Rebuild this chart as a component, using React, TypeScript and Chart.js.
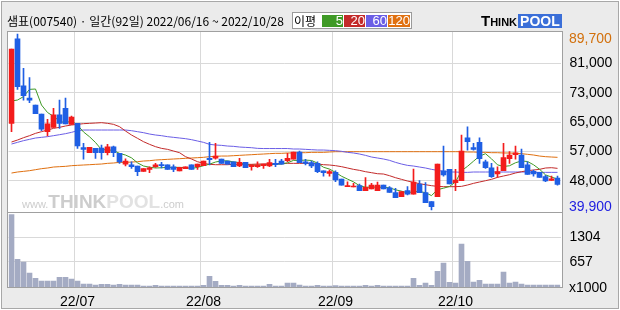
import React, { useEffect, useRef } from 'react';
import { Chart, registerables } from 'chart.js';

Chart.register(...registerables);

// ---- data ----
const dates = [
  '22/06/16', '22/06/17', '22/06/20', '22/06/21', '22/06/22', '22/06/23', '22/06/24', '22/06/27', '22/06/28', '22/06/29', '22/06/30',
  '22/07/01', '22/07/04', '22/07/05', '22/07/06', '22/07/07', '22/07/08', '22/07/11', '22/07/12', '22/07/13', '22/07/14', '22/07/15',
  '22/07/18', '22/07/19', '22/07/20', '22/07/21', '22/07/22', '22/07/25', '22/07/26', '22/07/27', '22/07/28', '22/07/29',
  '22/08/01', '22/08/02', '22/08/03', '22/08/04', '22/08/05', '22/08/08', '22/08/09', '22/08/10', '22/08/11', '22/08/12',
  '22/08/16', '22/08/17', '22/08/18', '22/08/19', '22/08/22', '22/08/23', '22/08/24', '22/08/25', '22/08/26', '22/08/29',
  '22/08/30', '22/08/31',
  '22/09/01', '22/09/02', '22/09/05', '22/09/06', '22/09/07', '22/09/08', '22/09/13', '22/09/14', '22/09/15', '22/09/16',
  '22/09/19', '22/09/20', '22/09/21', '22/09/22', '22/09/23', '22/09/26', '22/09/27', '22/09/28', '22/09/29', '22/09/30',
  '22/10/04', '22/10/05', '22/10/06', '22/10/07', '22/10/11', '22/10/12', '22/10/13', '22/10/14', '22/10/17', '22/10/18',
  '22/10/19', '22/10/20', '22/10/21', '22/10/24', '22/10/25', '22/10/26', '22/10/27', '22/10/28',
];

const opens = [
  64400, 88300, 75000, 71600, 69600, 67050, 62050, 63300, 66800, 68650,
  64150, 64400, 57550, 56100, 57350, 57450, 56100, 57800, 55950, 52900,
  52650, 52350, 50850, 51400, 52150, 52700, 52650, 52150, 50950, 51600,
  52650, 52150, 52450, 54500, 54600, 54300, 53750, 53550, 52350, 53400,
  52150, 52150, 52450, 52350, 53100, 53750, 53850, 54250, 56300, 53550,
  53300, 53100, 51000, 50270, 50550, 48670, 46500, 46400, 46780, 45370,
  45850, 45370, 46970, 46200, 44800, 43650, 45370, 44400, 47250, 44800,
  42250, 43650, 51000, 51400, 47650, 48200, 60350, 57550, 59050, 53500,
  51850, 50100, 51050, 54400, 55550, 55450, 52650, 50850, 50550, 49350,
  48300, 48950,
];
const highs = [
  85450, 89700, 80000, 77350, 69600, 67050, 65550, 68650, 71000, 71600,
  66500, 64400, 58750, 57650, 57350, 58300, 58500, 58000, 55950, 54400,
  53500, 52350, 51600, 52150, 53100, 53400, 52650, 52650, 51950, 52150,
  52650, 52900, 53750, 59050, 58750, 54300, 53750, 53550, 54500, 53400,
  52650, 53550, 52900, 54250, 54250, 54250, 55900, 56300, 56600, 54250,
  53750, 53550, 51000, 51200, 51000, 48670, 47900, 47450, 47250, 49050,
  47450, 47800, 46970, 46500, 46050, 45100, 46500, 51500, 48200, 47650,
  42250, 52900, 58000, 51400, 51400, 61100, 63400, 58750, 60350, 54050,
  53100, 52150, 58750, 56400, 58000, 57150, 53550, 51200, 50550, 49700,
  49500, 49500,
];
const lows = [
  62050, 74050, 71000, 70250, 67150, 62350, 60850, 63300, 63000, 64250,
  64150, 57350, 54250, 56100, 54500, 54250, 55450, 55000, 53100, 52350,
  51700, 49600, 50850, 50450, 51950, 51800, 51400, 50750, 50950, 51600,
  51400, 51400, 52450, 52650, 54250, 53100, 52900, 52150, 52150, 51900,
  51200, 51950, 51700, 52150, 52150, 52900, 53550, 54250, 53300, 52650,
  51850, 50450, 49500, 49500, 47900, 46950, 46500, 46400, 45350, 45370,
  45850, 45370, 45850, 44900, 43400, 43650, 44150, 44400, 44800, 41950,
  39900, 43650, 49500, 47250, 45350, 48200, 56850, 56850, 53100, 51700,
  49150, 49150, 51050, 53100, 54250, 51850, 50000, 49500, 49150, 47900,
  48300, 46950,
];
const closes = [
  85450, 74800, 72250, 71000, 67150, 62800, 64250, 66800, 64400, 64250,
  66200, 58000, 57050, 57650, 56100, 56100, 57800, 56100, 53500, 53750,
  52150, 50750, 51600, 51800, 52650, 52450, 51400, 51400, 51950, 52150,
  51400, 52900, 53750, 54150, 55150, 53100, 52900, 52150, 53400, 51900,
  52650, 52650, 52900, 53300, 52700, 52900, 54500, 56300, 53300, 53100,
  52350, 50750, 50450, 50750, 48400, 46950, 46700, 46500, 45350, 46300,
  46950, 46950, 45850, 44900, 43400, 45100, 44400, 47800, 44800, 42000,
  40850, 52900, 49800, 47250, 48400, 56600, 59250, 57050, 54400, 51850,
  49350, 50750, 54700, 55450, 56100, 51850, 50000, 50100, 49150, 48100,
  48750, 47150,
];
// volume, in thousands of shares
const volumes = [
  1897, 722, 652, 365, 226, 157, 157, 157, 252, 252,
  209, 157, 78, 78, 52, 70, 70, 52, 70, 52,
  52, 52, 26, 26, 43, 26, 26, 26, 26, 26,
  26, 26, 43, 278, 148, 43, 43, 26, 43, 26,
  26, 26, 26, 70, 26, 26, 104, 104, 52, 26,
  26, 43, 26, 26, 35, 26, 26, 26, 26, 43,
  26, 43, 26, 26, 26, 26, 26, 226, 43, 104,
  43, 409, 626, 122, 104, 1122, 670, 130, 174, 78,
  78, 78, 392, 104, 130, 78, 52, 52, 52, 52,
  52, 52,
];
const ma5 = [
  70740, 71020, 71970, 74040, 74130, 69600, 67490, 66400, 65080, 64500,
  65180, 63930, 61980, 60630, 59000, 56980, 56940, 56750, 55920, 55450,
  54660, 53250, 52350, 52010, 51790, 51850, 51980, 51940, 51970, 51870,
  51660, 51960, 52430, 52870, 53470, 53810, 53810, 53490, 53340, 52690,
  52600, 52550, 52700, 52680, 52840, 52890, 53260, 53940, 53940, 54020,
  53910, 53160, 51990, 51480, 50540, 49460, 48650, 47860, 46780, 46360,
  46360, 46410, 46280, 46190, 45610, 45240, 44730, 45120, 45100, 44820,
  43970, 45670, 46070, 46560, 47840, 50990, 52260, 53710, 55140, 55830,
  54380, 52680, 52210, 52420, 53270, 53770, 53620, 52700, 51440, 49840,
  49220, 48650,
];
const ma20 = [
  59140, 59700, 60360, 60930, 61590, 62060, 62530, 63000, 63290, 63670,
  63950, 64140, 64330, 64420, 64510, 64610, 64420, 64140, 63480, 62250,
  61120, 60180, 59230, 58480, 57820, 57340, 57060, 56590, 56120, 54990,
  54330, 53570, 53100, 52820, 52720, 52720, 52720, 52820, 52820, 52820,
  52820, 52910, 52910, 53000, 53000, 53100, 53100, 53100, 53100, 53100,
  53100, 52910, 52720, 52630, 52440, 52160, 51780, 51400, 51120, 50740,
  50460, 50170, 50080, 49610, 49040, 48570, 48100, 47720, 47340, 47060,
  46780, 46590, 46500, 46500, 46500, 46590, 46970, 47440, 47820, 48190,
  48570, 49140, 49520, 49890, 50370, 50740, 51030, 51210, 51400, 51780,
  51870, 51680,
];
const ma60 = [
  58570, 59040, 59520, 59890, 60270, 60460, 60650, 60930, 61210, 61500,
  61870, 62340, 62530, 62530, 62530, 62530, 62530, 62530, 62530, 62530,
  62340, 62060, 61780, 61400, 61120, 60930, 60650, 60460, 60270, 60080,
  59800, 59420, 59040, 58480, 58290, 58190, 58000, 57910, 57720, 57620,
  57530, 57340, 57290, 57290, 57290, 57290, 57290, 57160, 57160, 57060,
  56970, 56870, 56870, 56780, 56680, 56500, 56210, 56030, 55740, 55360,
  54890, 54610, 54330, 53950, 53380, 52910, 52530, 52340, 52060, 51780,
  51400, 51120, 50830, 50650, 50650, 50550, 50550, 50650, 50650, 50650,
  50650, 50650, 50650, 50650, 50650, 50650, 50650, 50550, 50550, 50550,
  50550, 50550,
];
const ma120 = [
  50360, 50650, 50835, 51025, 51310, 51590, 51780, 52060, 52160, 52250,
  52440, 52540, 52630, 52720, 52820, 52910, 53100, 53200, 53380, 53380,
  53470, 53570, 53760, 53850, 54040, 54140, 54230, 54330, 54420, 54520,
  54610, 54700, 54800, 54990, 55080, 55170, 55170, 55270, 55360, 55460,
  55550, 55650, 55740, 55840, 55930, 55930, 56030, 56030, 56120, 56120,
  56210, 56210, 56210, 56310, 56400, 56400, 56400, 56400, 56400, 56400,
  56400, 56400, 56400, 56400, 56400, 56400, 56400, 56400, 56400, 56400,
  56400, 56400, 56400, 56400, 56400, 56400, 56310, 56310, 56210, 56210,
  56120, 56120, 56030, 56030, 55930, 55840, 55650, 55460, 55170, 54990,
  54890, 54800,
];
const maPeriods = ['5', '20', '60', '120'];
const priceTickLabels = ['81,000', '73,000', '65,000', '57,000', '48,000'];
const volumeTickValues = [657, 1304];
const stockName = '샘표(007540)';

// ---- styles ----
const UP = '#f31c1c';
const DOWN = '#1f5fe4';
const MA_COLORS = ['#3f9a26', '#c32a2a', '#6b5ee6', '#e07010'];
const VOL = '#a4abc3';
const GRID = '#d9d9d9';
const BORDER = '#a0a0a0';
const AXIS_FONT = '"Liberation Sans Narrow", "Liberation Sans", Arial, sans-serif';

const fmt = (v: number) => v.toLocaleString('en-US');

const panels = {
  id: 'panels',
  beforeDraw(chart: any) {
    const { ctx, chartArea: a } = chart;
    const py = chart.scales.y;
    const vy = chart.scales.yv;
    ctx.save();
    ctx.fillStyle = '#ffffff';
    ctx.fillRect(Math.floor(a.left) - 1, py.top - 1, Math.ceil(a.right) - Math.floor(a.left) + 3, vy.bottom - py.top + 2);
    ctx.restore();
  },
  afterDraw(chart: any) {
    const { ctx, chartArea: a } = chart;
    const py = chart.scales.y;
    const vy = chart.scales.yv;
    const L = Math.floor(a.left) - 0.5;
    const R = Math.ceil(a.right) + 1.5;
    ctx.save();
    ctx.strokeStyle = BORDER;
    ctx.lineWidth = 1;
    ctx.strokeRect(L, py.top - 0.5, R - L, vy.bottom - py.top + 1);
    ctx.beginPath();
    ctx.moveTo(L, py.bottom + 0.5);
    ctx.lineTo(R, py.bottom + 0.5);
    ctx.stroke();
    ctx.restore();
  },
};

export default function App() {
  const ref = useRef<HTMLCanvasElement | null>(null);
  const maxHigh = Math.max(...highs);
  const minLow = Math.min(...lows);

  useEffect(() => {
    if (!ref.current) return;
    const range = maxHigh - minLow;
    const pad = (range * 2) / 176;
    const tickVals = priceTickLabels.map((_, k) => maxHigh - ((k + 1) * range) / 6);
    const volMax = Math.max(...volumes) * 1.035;
    const colors = closes.map((c, i) => (c >= opens[i] ? UP : DOWN));
    const monthLabel = (i: number) =>
      i > 0 && dates[i].slice(0, 5) !== dates[i - 1].slice(0, 5) ? dates[i].slice(0, 5) : '';
    const isMonth = (i: number) => i > 0 && i < dates.length && monthLabel(i) !== '';
    const line = (data: number[], color: string) => ({
      type: 'line' as const,
      data,
      borderColor: color,
      borderWidth: 1,
      pointRadius: 0,
      tension: 0,
      fill: false,
      yAxisID: 'y',
    });
    const font = { family: AXIS_FONT, size: 14 };

    const chart = new Chart(ref.current, {
      type: 'bar',
      data: {
        labels: dates,
        datasets: [
          {
            type: 'bar',
            data: opens.map((o, i) => [o, closes[i]]),
            backgroundColor: colors,
            barThickness: 5,
            minBarLength: 1,
            grouped: false,
            borderWidth: 0,
            yAxisID: 'y',
          } as any,
          {
            type: 'bar',
            data: lows.map((l, i) => [l, highs[i]]),
            backgroundColor: colors,
            barThickness: 1,
            grouped: false,
            borderWidth: 0,
            yAxisID: 'y',
          } as any,
          line(ma5, MA_COLORS[0]),
          line(ma20, MA_COLORS[1]),
          line(ma60, MA_COLORS[2]),
          line(ma120, MA_COLORS[3]),
          {
            type: 'bar',
            data: volumes,
            backgroundColor: VOL,
            barThickness: 5,
            grouped: false,
            borderWidth: 0,
            yAxisID: 'yv',
          } as any,
        ],
      },
      options: {
        responsive: false,
        animation: false,
        devicePixelRatio: 1,
        events: [],
        layout: { padding: { left: 8.5, top: 32, right: 0, bottom: 0 } },
        plugins: { legend: { display: false }, tooltip: { enabled: false } },
        scales: {
          x: {
            type: 'category',
            offset: true,
            grid: {
              offset: true,
              drawTicks: false,
              color: (ctx: any) => (isMonth(ctx.index) ? GRID : 'rgba(0,0,0,0)'),
            },
            border: { display: false },
            ticks: {
              autoSkip: false,
              maxRotation: 0,
              minRotation: 0,
              padding: 7,
              color: '#000',
              font,
              callback: (_v: any, i: number) => monthLabel(i),
            },
            afterFit: (s: any) => {
              s.height = 23;
            },
          },
          y: {
            type: 'linear',
            position: 'right',
            stack: 'main',
            stackWeight: 2.4,
            min: minLow - pad,
            max: maxHigh + pad,
            afterBuildTicks: (s: any) => {
              s.ticks = tickVals.map((v) => ({ value: v }));
            },
            grid: { color: GRID, drawTicks: false },
            border: { display: false },
            ticks: {
              padding: 9,
              color: '#000',
              font,
              callback: (_v: any, i: number) => priceTickLabels[i],
            },
            afterFit: (s: any) => {
              s.width = 59.5;
            },
          },
          yv: {
            type: 'linear',
            position: 'right',
            stack: 'main',
            stackWeight: 1,
            min: 0,
            max: volMax,
            afterBuildTicks: (s: any) => {
              s.ticks = volumeTickValues.map((v) => ({ value: v }));
            },
            grid: { color: GRID, drawTicks: false },
            border: { display: false },
            ticks: {
              padding: 9,
              color: '#000',
              font,
              callback: (v: any) => String(v),
            },
            afterFit: (s: any) => {
              s.width = 59.5;
            },
          },
        },
      } as any,
      plugins: [panels],
    });
    return () => chart.destroy();
  }, []);

  const n = dates.length;
  const title = `${stockName} · 일간(${n}일) 20${dates[0]} ~ 20${dates[n - 1]}`;
  const legendLeft = [29, 51, 73, 95];

  return (
    <div
      style={{
        position: 'absolute',
        left: 0,
        top: 0,
        width: 620,
        height: 310,
        background: '#ffffff',
        overflow: 'hidden',
      }}
    >
      <div
        style={{
          position: 'absolute',
          left: 1,
          top: 1,
          width: 616,
          height: 306,
          border: '1px solid #a8a8a8',
          background: '#ebebeb',
        }}
      />
      <canvas ref={ref} width={620} height={310} style={{ position: 'absolute', left: 0, top: 0, width: 620, height: 310 }} />
      <div
        style={{
          position: 'absolute',
          left: 22,
          top: 193,
          whiteSpace: 'nowrap',
          fontFamily: '"Liberation Sans", Arial, sans-serif',
          color: '#cdcdcd',
          lineHeight: '18px',
          pointerEvents: 'none',
        }}
      >
        <span style={{ fontSize: 11 }}>www.</span>
        <span style={{ fontSize: 19, fontWeight: 'bold' }}>THINK</span>
        <span style={{ fontSize: 19, fontWeight: 'bold', color: '#e2e2e2' }}>POOL</span>
        <span style={{ fontSize: 11 }}>.com</span>
      </div>
      <div
        style={{
          position: 'absolute',
          left: 7,
          top: 14,
          fontSize: 12,
          lineHeight: '14px',
          whiteSpace: 'nowrap',
          color: '#000',
          fontFamily: '"Noto Sans CJK KR", sans-serif',
        }}
      >
        {title}
      </div>
      <div
        style={{
          position: 'absolute',
          left: 292,
          top: 12,
          width: 118,
          height: 15,
          border: '1px solid #9a9a9a',
          background: '#ffffff',
          fontFamily: '"Noto Sans CJK KR", sans-serif',
        }}
      >
        <span style={{ position: 'absolute', left: 1, top: 0, fontSize: 12, lineHeight: '15px', color: '#000' }}>이평</span>
        {maPeriods.map((p, i) => (
          <span
            key={p}
            style={{
              position: 'absolute',
              left: legendLeft[i],
              top: 2,
              width: i === 3 ? 22 : 21,
              height: 12,
              background: MA_COLORS[i],
              color: '#fff',
              fontSize: 13,
              lineHeight: '12px',
              textAlign: 'right',
              fontFamily: '"Liberation Sans", Arial, sans-serif',
              paddingRight: 0,
              boxSizing: 'border-box',
            }}
          >
            {p}
          </span>
        ))}
      </div>
      <div
        style={{
          position: 'absolute',
          left: 481,
          top: 13,
          height: 15,
          display: 'flex',
          alignItems: 'flex-end',
          fontFamily: '"Liberation Sans", Arial, sans-serif',
          fontWeight: 'bold',
          whiteSpace: 'nowrap',
        }}
      >
        <span style={{ fontSize: 15, lineHeight: '14px', color: '#000' }}>T</span>
        <span style={{ fontSize: 11, lineHeight: '11px', color: '#000' }}>HINK</span>
        <span
          style={{
            fontSize: 14,
            lineHeight: '14px',
            color: '#fff',
            background: '#3b6fd8',
            padding: '0 2px',
            marginLeft: 1,
          }}
        >
          POOL
        </span>
      </div>
      <div
        style={{
          position: 'absolute',
          left: 569,
          top: 30,
          fontSize: 14,
          lineHeight: '16px',
          color: '#d2700c',
          fontFamily: AXIS_FONT,
        }}
      >
        {fmt(maxHigh)}
      </div>
      <div
        style={{
          position: 'absolute',
          left: 569,
          top: 198,
          fontSize: 14,
          lineHeight: '16px',
          color: '#1d1de0',
          fontFamily: AXIS_FONT,
        }}
      >
        {fmt(minLow)}
      </div>
      <div
        style={{
          position: 'absolute',
          left: 569,
          top: 279,
          fontSize: 14,
          lineHeight: '16px',
          color: '#000',
          fontFamily: AXIS_FONT,
        }}
      >
        x1000
      </div>
    </div>
  );
}
